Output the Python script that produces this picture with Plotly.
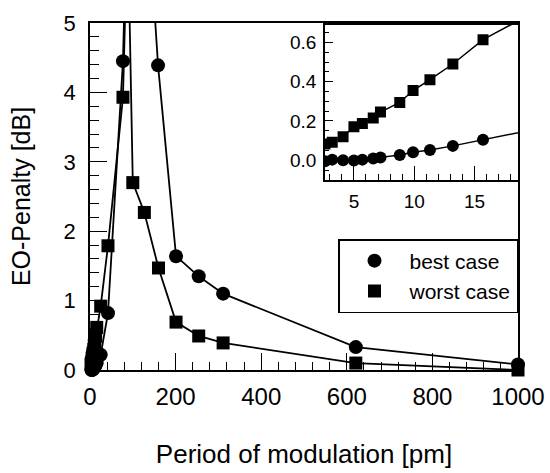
import plotly.graph_objects as go

# ---- data ----
best_x = [2.6, 3.2, 4.1, 5.0, 5.7, 6.6, 7.2, 8.8, 9.9, 11.3, 13.2, 15.7, 25, 42, 77, 100, 159, 201, 254, 311, 621, 1000]
best_y = [-0.005, 0.003, 0.0, -0.002, 0.003, 0.009, 0.014, 0.026, 0.04, 0.052, 0.073, 0.104, 0.22, 0.82, 4.45, 10.0, 4.39, 1.64, 1.35, 1.1, 0.33, 0.08]

worst_x = [2.6, 3.2, 4.1, 5.0, 5.7, 6.6, 7.2, 8.8, 9.9, 11.3, 13.2, 15.7, 25, 42, 77, 88, 100, 127, 160, 201, 254, 311, 621, 1000]
worst_y = [0.083, 0.092, 0.12, 0.17, 0.187, 0.215, 0.245, 0.294, 0.355, 0.41, 0.49, 0.614, 0.92, 1.79, 3.93, 6.5, 2.7, 2.27, 1.47, 0.69, 0.49, 0.39, 0.1, 0.0]

main_xticks = [0, 200, 400, 600, 800, 1000]
main_yticks = [0, 1, 2, 3, 4, 5]
inset_xticks = [5, 10, 15]
inset_yticks = [0.0, 0.2, 0.4, 0.6]

FONT = "Liberation Sans, Arial, sans-serif"
BLACK = "#000000"

fig = go.Figure()

# main plot: lines (no legend) then markers (legend)
fig.add_trace(go.Scatter(x=best_x, y=best_y, mode="lines", showlegend=False,
                         line=dict(color=BLACK, width=1.8), xaxis="x", yaxis="y"))
fig.add_trace(go.Scatter(x=worst_x, y=worst_y, mode="lines", showlegend=False,
                         line=dict(color=BLACK, width=1.8), xaxis="x", yaxis="y"))
fig.add_trace(go.Scatter(x=best_x, y=best_y, name="best case", mode="markers",
                         marker=dict(symbol="circle", size=14, color=BLACK),
                         cliponaxis=False, xaxis="x", yaxis="y"))
fig.add_trace(go.Scatter(x=worst_x, y=worst_y, name="worst case", mode="markers",
                         marker=dict(symbol="square", size=13, color=BLACK),
                         cliponaxis=False, xaxis="x", yaxis="y"))

# inset
fig.add_trace(go.Scatter(x=best_x, y=best_y, mode="lines+markers", showlegend=False,
                         line=dict(color=BLACK, width=1.5),
                         marker=dict(symbol="circle", size=12, color=BLACK),
                         xaxis="x2", yaxis="y2"))
fig.add_trace(go.Scatter(x=worst_x, y=worst_y, mode="lines+markers", showlegend=False,
                         line=dict(color=BLACK, width=1.5),
                         marker=dict(symbol="square", size=11, color=BLACK),
                         xaxis="x2", yaxis="y2"))

axis_common = dict(showgrid=False, zeroline=False, showline=True, linecolor=BLACK,
                   linewidth=1.5, mirror=True, ticks="inside", tickcolor=BLACK,
                   tickwidth=1.2, ticklabeloverflow="allow")

fig.update_layout(
    width=550, height=473,
    paper_bgcolor="white", plot_bgcolor="white",
    margin=dict(l=90, r=32, t=23, b=103, autoexpand=False),
    font=dict(family=FONT, color=BLACK),
    showlegend=True,
    xaxis=dict(**axis_common, domain=[0, 1], range=[0, 1000], tickvals=main_xticks,
               ticklen=17, ticklabelstandoff=4,
               minor=dict(dtick=40, ticks="inside", ticklen=8, tickcolor=BLACK, tickwidth=1.2),
               tickfont=dict(size=24),
               title=dict(text="Period of modulation [pm]", font=dict(size=26), standoff=36)),
    yaxis=dict(**axis_common, domain=[0, 1], range=[0, 5], tickvals=main_yticks,
               ticklen=17, ticklabelstandoff=8,
               minor=dict(dtick=0.2, ticks="inside", ticklen=9, tickcolor=BLACK, tickwidth=1.2),
               tickfont=dict(size=22),
               title=dict(text="EO-Penalty [dB]", font=dict(size=25), standoff=26)),
    xaxis2=dict(**axis_common, domain=[0.549, 1.0], range=[2.6, 18.6], anchor="y2",
                tickvals=inset_xticks, ticklen=14, ticklabelstandoff=4,
                minor=dict(dtick=1, ticks="inside", ticklen=6, tickcolor=BLACK, tickwidth=1),
                tickfont=dict(size=19)),
    yaxis2=dict(**axis_common, domain=[0.548, 0.995], range=[-0.1, 0.69], anchor="x2",
                tickvals=inset_yticks, tickformat=".1f", ticklen=8, ticklabelstandoff=3,
                minor=dict(dtick=0.05, ticks="inside", ticklen=4, tickcolor=BLACK, tickwidth=1),
                tickfont=dict(size=19)),
    legend=dict(x=1.0, xanchor="right", y=0.3775, yanchor="top",
                bgcolor="white", bordercolor=BLACK, borderwidth=1.5,
                font=dict(size=21), itemwidth=60, tracegroupgap=0),
)

fig.write_html("out.html",
               config={"displayModeBar": False},
               post_script="document.body.style.margin='0';document.body.style.overflow='hidden';")
